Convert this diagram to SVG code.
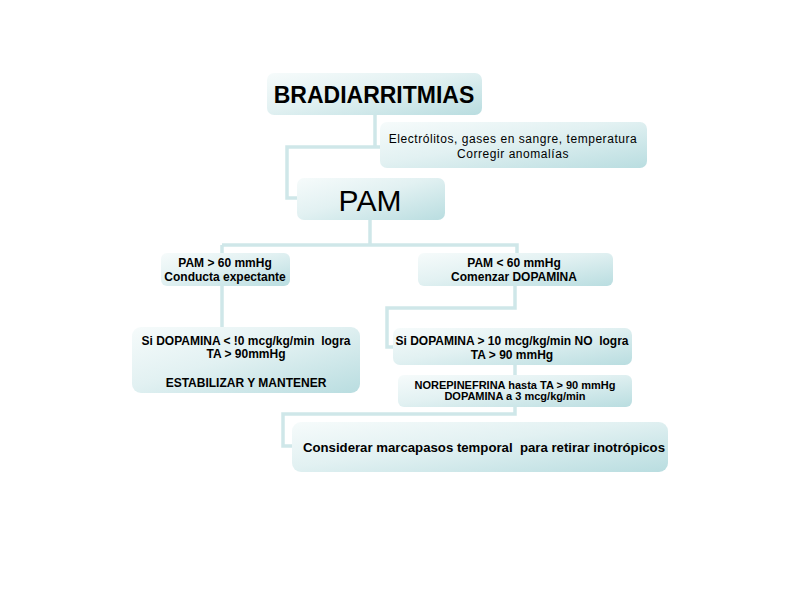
<svg xmlns="http://www.w3.org/2000/svg" width="800" height="600" viewBox="0 0 800 600">
<defs>
<linearGradient id="g" x1="0" y1="0" x2="1" y2="1">
<stop offset="0" stop-color="#f6fbfb"/>
<stop offset="0.45" stop-color="#e2f1f2"/>
<stop offset="1" stop-color="#b9dde0"/>
</linearGradient>
<style>
.box{fill:url(#g);stroke:none}
.c{fill:none;stroke:#cfe7e9;stroke-width:3.5}
text{font-family:"Liberation Sans",Arial,sans-serif;fill:#000;text-anchor:middle}
.b{font-weight:bold;font-size:12px}
.s{font-weight:bold;font-size:11px}
.e{font-size:12px;letter-spacing:0.55px}
</style>
</defs>
<rect width="800" height="600" fill="#fff"/>
<g id="connectors">
<path class="c" d="M375,115 V147 H380 M375,147 H287 V198 H297"/>
<path class="c" d="M370,220 V245 M222,245 H517 V254 M222,245 V328"/>
<path class="c" d="M515,286 V308 H387 V347 H393"/>
<path class="c" d="M515,364 V375 M515,407 V414 H283 V446 H292"/>
</g>
<g id="n1"><rect class="box" x="267" y="73" width="215" height="42" rx="7"/><text x="374" y="103" style="font-weight:bold;font-size:23px">BRADIARRITMIAS</text></g>
<g id="n2"><rect class="box" x="380" y="122" width="267" height="46" rx="7"/><text class="e" x="513" y="143">Electrólitos, gases en sangre, temperatura</text><text class="e" x="513" y="158">Corregir anomalías</text></g>
<g id="n3"><rect class="box" x="297" y="178" width="148" height="42" rx="7"/><text x="370" y="211" style="font-size:30px">PAM</text></g>
<g id="n4"><rect class="box" x="161" y="253" width="129" height="33" rx="6"/><text class="b" x="225" y="267">PAM &gt; 60 mmHg</text><text class="b" x="225" y="281">Conducta expectante</text></g>
<g id="n5"><rect class="box" x="418" y="253" width="195" height="33" rx="6"/><text class="b" x="514" y="267">PAM &lt; 60 mmHg</text><text class="b" x="514" y="281">Comenzar DOPAMINA</text></g>
<g id="n6"><rect class="box" x="132" y="327" width="228" height="66" rx="9"/><text class="b" x="246" y="345" xml:space="preserve">Si DOPAMINA &lt; !0 mcg/kg/min  logra</text><text class="b" x="246" y="358">TA &gt; 90mmHg</text><text class="b" x="246" y="387">ESTABILIZAR Y MANTENER</text></g>
<g id="n7"><rect class="box" x="393" y="328" width="239" height="37" rx="7"/><text class="b" x="512" y="345" xml:space="preserve">Si DOPAMINA &gt; 10 mcg/kg/min NO  logra</text><text class="b" x="512" y="359">TA &gt; 90 mmHg</text></g>
<g id="n8"><rect class="box" x="398" y="375" width="234" height="32" rx="6"/><text class="s" x="515" y="389">NOREPINEFRINA hasta TA &gt; 90 mmHg</text><text class="s" x="515" y="400">DOPAMINA a 3 mcg/kg/min</text></g>
<g id="n9"><rect class="box" x="292" y="422" width="376" height="50" rx="9"/><text x="484" y="452" xml:space="preserve" style="font-weight:bold;font-size:13.2px">Considerar marcapasos temporal  para retirar inotrópicos</text></g>
</svg>
